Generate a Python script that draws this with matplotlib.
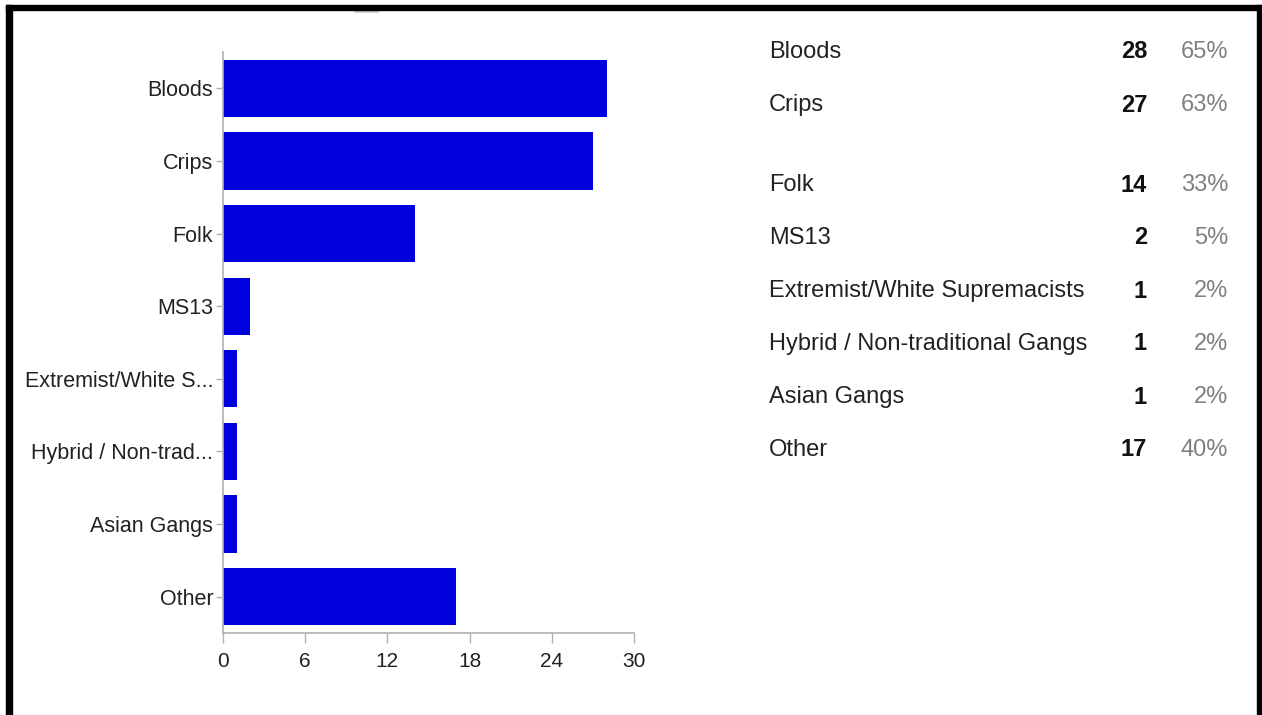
import matplotlib
matplotlib.use('Agg')
import matplotlib.pyplot as plt
from matplotlib.patches import Rectangle
from matplotlib.lines import Line2D

# survey answers: gang types reported
categories = ['Bloods', 'Crips', 'Folk', 'MS13', 'Extremist/White Supremacists',
              'Hybrid / Non-traditional Gangs', 'Asian Gangs', 'Other']
tick_labels = ['Bloods', 'Crips', 'Folk', 'MS13', 'Extremist/White S...',
               'Hybrid / Non-trad...', 'Asian Gangs', 'Other']
counts = [28, 27, 14, 2, 1, 1, 1, 17]
percents = ['65%', '63%', '33%', '5%', '2%', '2%', '2%', '40%']
x_ticks = [0, 6, 12, 18, 24, 30]

plt.rcParams['font.family'] = ['Liberation Sans Narrow', 'Liberation Sans', 'DejaVu Sans']

W, H = 1262, 715
fig = plt.figure(figsize=(W / 100, H / 100), dpi=100)

# bar chart on the left
ax = fig.add_axes([223 / W, 1 - 633 / H, (634 - 223) / W, (633 - 52) / H])
ypos = list(range(len(counts)))
ax.barh(ypos, counts, height=0.79, color='#0000DD')
ax.set_xlim(0, 30)
ax.set_ylim(len(counts) - 0.5, -0.5)
ax.set_xticks(x_ticks)
ax.set_yticks(ypos)
ax.set_yticklabels(tick_labels)
for s in ['top', 'right']:
    ax.spines[s].set_visible(False)
for s in ['left', 'bottom']:
    ax.spines[s].set_color('#b0b0b0')
    ax.spines[s].set_linewidth(1.2)
ax.tick_params(axis='x', length=7, width=1, color='#b0b0b0', labelsize=15,
               labelcolor='#222222', pad=7)
ax.tick_params(axis='y', length=5, width=1, color='#b0b0b0', labelsize=15.5,
               labelcolor='#222222', pad=2)

# summary table on the right
for i, (name, n, pct) in enumerate(zip(categories, counts, percents)):
    yp = 52 + 53 * i + (27 if i >= 2 else 0)
    yf = 1 - yp / H
    fig.text(769 / W, yf, name, fontsize=17, color='#222222', ha='left', va='center')
    fig.text(1147 / W, yf, str(n), fontsize=17, color='#111111', fontweight='bold',
             ha='right', va='center')
    fig.text(1228 / W, yf, pct, fontsize=17, color='#808080', ha='right', va='center')

# black frame around the panel
fig.patches.append(Rectangle((6 / W, 0), 6 / W, 1 - 5 / H, transform=fig.transFigure,
                             color='black', zorder=10))
fig.patches.append(Rectangle((6 / W, 1 - 10 / H), (W - 6) / W, 5 / H,
                             transform=fig.transFigure, color='black', zorder=10))
fig.patches.append(Rectangle((1257 / W, 0), 5 / W, 1 - 5 / H, transform=fig.transFigure,
                             color='black', zorder=10))
fig.lines.append(Line2D([355 / W, 377 / W], [1 - 11 / H, 1 - 11 / H],
                        transform=fig.transFigure, color='#cccccc', lw=2))

fig.savefig('out.png', dpi=100)
